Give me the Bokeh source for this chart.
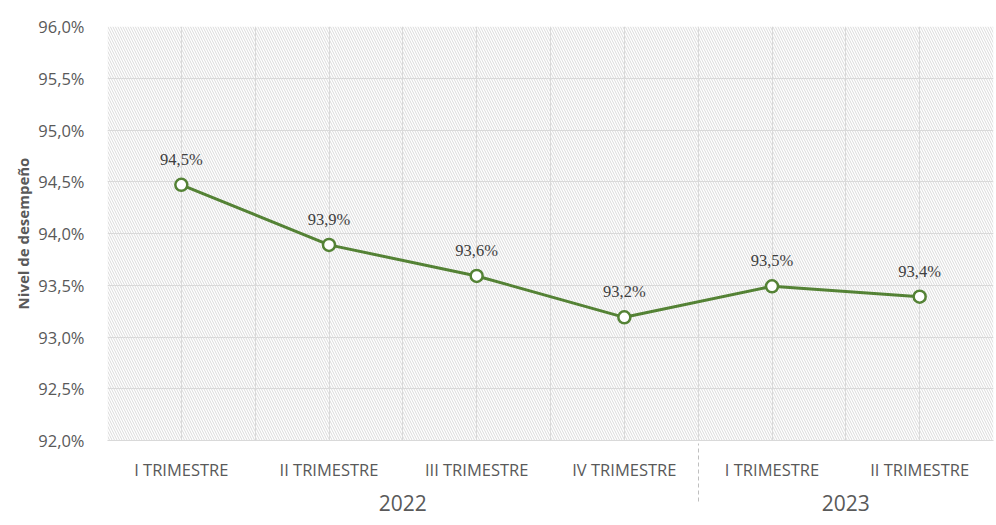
from bokeh.plotting import figure
from bokeh.models import (FactorRange, Range1d, ColumnDataSource, BoxAnnotation,
                          FixedTicker, LabelSet)
from bokeh.embed import file_html
from bokeh.resources import INLINE

# ---- data ----
years = ["2022", "2022", "2022", "2022", "2023", "2023"]
quarters = ["I TRIMESTRE", "II TRIMESTRE", "III TRIMESTRE", "IV TRIMESTRE",
            "I TRIMESTRE", "II TRIMESTRE"]
values = [94.47, 93.89, 93.59, 93.19, 93.49, 93.39]
value_labels = ["94,5%", "93,9%", "93,6%", "93,2%", "93,5%", "93,4%"]
y_ticks = [92.0, 92.5, 93.0, 93.5, 94.0, 94.5, 95.0, 95.5, 96.0]
y_tick_labels = ["92,0%", "92,5%", "93,0%", "93,5%", "94,0%", "94,5%",
                 "95,0%", "95,5%", "96,0%"]
y_title = "Nivel de desempeño"

FONT = "Open Sans"
GREEN = "#548235"
GRID = "#d9d9d9"

factors = list(zip(years, quarters))
source = ColumnDataSource(dict(x=factors, y=values, lab=value_labels))

p = figure(width=996, height=525, output_backend="svg", toolbar_location=None,
           x_range=FactorRange(*factors, factor_padding=0, group_padding=0,
                               subgroup_padding=0, range_padding=0),
           y_range=Range1d(92, 96),
           min_border_left=107, min_border_top=26, min_border_right=3,
           min_border_bottom=85)
p.outline_line_color = None
p.background_fill_color = "white"

# hatched plot background
bg = BoxAnnotation(fill_color="white", fill_alpha=1.0, line_color=None,
                   hatch_pattern="\\", hatch_color="#dadada", hatch_scale=5,
                   hatch_weight=1, level="image")
p.add_layout(bg)

# grids
p.ygrid.ticker = FixedTicker(ticks=y_ticks)
p.ygrid.grid_line_color = GRID
p.ygrid.grid_line_width = 1
p.xgrid.ticker = FixedTicker(ticks=[i * 0.5 for i in range(2 * len(factors) + 1)])
p.xgrid.grid_line_color = GRID
p.xgrid.grid_line_width = 1

# line + markers
p.line("x", "y", source=source, line_color=GREEN, line_width=3)
p.scatter("x", "y", source=source, size=12, fill_color="white",
          line_color=GREEN, line_width=2.5)

labels = LabelSet(x="x", y="y", text="lab", source=source, y_offset=20,
                  text_align="center", text_baseline="alphabetic",
                  text_font=FONT, text_font_size="16.5px", text_color="#404040")
p.add_layout(labels)

# y axis
p.yaxis.ticker = FixedTicker(ticks=y_ticks)
p.yaxis.major_label_overrides = {t: l for t, l in zip(y_ticks, y_tick_labels)}
p.yaxis.axis_line_color = None
p.yaxis.major_tick_line_color = None
p.yaxis.minor_tick_line_color = None
p.yaxis.major_label_text_font = FONT
p.yaxis.major_label_text_font_size = "16.5px"
p.yaxis.major_label_text_color = "#595959"
p.yaxis.major_label_standoff = 17
p.yaxis.axis_label = y_title
p.yaxis.axis_label_text_font = FONT
p.yaxis.axis_label_text_font_size = "15px"
p.yaxis.axis_label_text_font_style = "bold"
p.yaxis.axis_label_text_color = "#595959"
p.yaxis.axis_label_standoff = 2

# x axis (quarters + year groups)
xa = p.xaxis[0]
xa.axis_line_color = GRID
xa.major_tick_line_color = None
xa.minor_tick_line_color = None
xa.major_label_text_font = FONT
xa.major_label_text_font_size = "16.5px"
xa.major_label_text_color = "#595959"
xa.major_label_standoff = 11
xa.group_text_font = FONT
xa.group_text_font_size = "21px"
xa.group_text_color = "#595959"
xa.group_text_font_style = "normal"
xa.separator_line_color = "#bfbfbf"
xa.separator_line_width = 1
xa.separator_line_dash = "4 3"

open("out.html", "w").write(file_html(p, INLINE))
